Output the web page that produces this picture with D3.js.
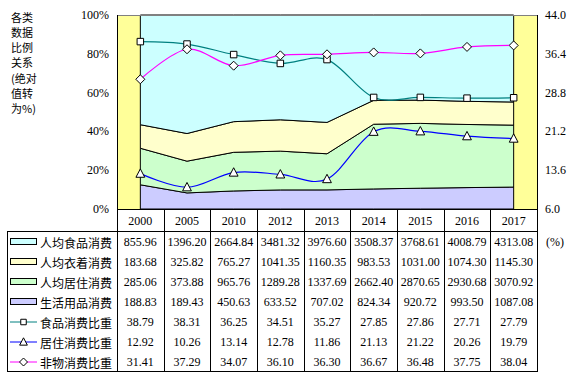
<!DOCTYPE html>
<html>
<head>
<meta charset="utf-8">
<script src="https://cdn.jsdelivr.net/npm/d3@7"></script>
<style>
  body { margin: 0; background: #fff; }
  text { font-family: "Liberation Serif", "Times New Roman", serif; font-size: 12px; fill: #000; }
  .cn { font-family: "Noto Sans CJK SC", sans-serif; font-size: 12px; }
  .ytitle { font-size: 11px; }
</style>
</head>
<body>
<div id="container"></div>
<script>
/* DATA */
const years = ["2000", "2005", "2010", "2012", "2013", "2014", "2015", "2016", "2017"];
const food = [855.96, 1396.20, 2664.84, 3481.32, 3976.60, 3508.37, 3768.61, 4008.79, 4313.08];
const clothing = [183.68, 325.82, 765.27, 1041.35, 1160.35, 983.53, 1031.00, 1074.30, 1145.30];
const housing = [285.06, 373.88, 965.76, 1289.28, 1337.69, 2662.40, 2870.65, 2930.68, 3070.92];
const daily = [188.83, 189.43, 450.63, 633.52, 707.02, 824.34, 920.72, 993.50, 1087.08];
const foodShare = [38.79, 38.31, 36.25, 34.51, 35.27, 27.85, 27.86, 27.71, 27.79];
const housingShare = [12.92, 10.26, 13.14, 12.78, 11.86, 21.13, 21.22, 20.26, 19.79];
const nonMaterialShare = [31.41, 37.29, 34.07, 36.10, 36.30, 36.67, 36.48, 37.75, 38.04];
const leftTicks = [0, 0.2, 0.4, 0.6, 0.8, 1];
const rightTicks = [6.0, 13.6, 21.2, 28.8, 36.4, 44.0];
const yTitle = ["各类", "数据", "比例", "关系", "(绝对", "值转", "为%)"];

const areaNames = ["人均食品消费", "人均衣着消费", "人均居住消费", "生活用品消费"];
const lineNames = ["食品消费比重", "居住消费比重", "非物消费比重"];

/* CONSTANTS */
const width = 576, height = 376;
const plot = {left: 117, right: 537, top: 15, bottom: 209};
const tableTop = 231, rowH = 20, legendLeft = 7;

const areaColors = {food: "#CCFFFF", clothing: "#FFFFCC", housing: "#CCFFCC", daily: "#CCCCFF"};
const lineColors = ["#008080", "#0000FF", "#FF00FF"];
const markers = ["square", "triangle", "diamond"];

const svg = d3.select("#container").append("svg")
  .attr("width", width)
  .attr("height", height);

/* SCALES */
const xScale = d3.scaleBand().domain(years).range([plot.left, plot.right]).padding(0);
const xMid = d => xScale(d) + xScale.bandwidth() / 2;
const yPct = d3.scaleLinear().domain([0, 1]).range([plot.bottom, plot.top]);
const yRight = d3.scaleLinear().domain([6, 44]).range([plot.bottom, plot.top]);

// plot background
svg.append("rect")
  .attr("x", plot.left).attr("y", plot.top)
  .attr("width", plot.right - plot.left).attr("height", plot.bottom - plot.top)
  .attr("fill", "#FFFF99");

// stacked 100% areas
const rows = years.map((y, i) => ({year: y, daily: daily[i], housing: housing[i], clothing: clothing[i], food: food[i]}));
const stack = d3.stack()
  .keys(["daily", "housing", "clothing", "food"])
  .offset(d3.stackOffsetExpand);
const series = stack(rows);

const area = d3.area()
  .x(d => xMid(d.data.year))
  .y0(d => yPct(d[0]))
  .y1(d => yPct(d[1]));

svg.selectAll(".area")
  .data(series)
  .join("path")
  .attr("class", "area")
  .attr("d", area)
  .attr("fill", d => areaColors[d.key])
  .attr("stroke", "#000")
  .attr("stroke-width", 1);

// plot frame
svg.append("line")
  .attr("x1", plot.left).attr("x2", plot.right)
  .attr("y1", plot.top + 0.5).attr("y2", plot.top + 0.5)
  .attr("stroke", "#808080");

// share lines on the right axis
const lineData = [foodShare, housingShare, nonMaterialShare];
const lineGen = d3.line()
  .x((d, i) => xMid(years[i]))
  .y(d => yRight(d))
  .curve(d3.curveCardinal.tension(0));

svg.selectAll(".share")
  .data(lineData)
  .join("path")
  .attr("class", "share")
  .attr("d", lineGen)
  .attr("fill", "none")
  .attr("stroke", (d, i) => lineColors[i])
  .attr("stroke-width", 1.2);

function markerPath(type, s) {
  const p = d3.path();
  if (type === "square") {
    p.rect(-s / 2, -s / 2, s, s);
  } else if (type === "triangle") {
    p.moveTo(0, -s * 0.6); p.lineTo(s * 0.55, s * 0.45); p.lineTo(-s * 0.55, s * 0.45); p.closePath();
  } else {
    p.moveTo(0, -s / 2); p.lineTo(s / 2, 0); p.lineTo(0, s / 2); p.lineTo(-s / 2, 0); p.closePath();
  }
  return p.toString();
}
const markerSize = {square: 6.5, triangle: 8, diamond: 9};

lineData.forEach((vals, k) => {
  svg.selectAll(".mk" + k)
    .data(vals)
    .join("path")
    .attr("class", "mk" + k)
    .attr("transform", (d, i) => `translate(${xMid(years[i])},${yRight(d)})`)
    .attr("d", markerPath(markers[k], markerSize[markers[k]]))
    .attr("fill", "#fff")
    .attr("stroke", "#000")
    .attr("stroke-width", 1);
});

/* AXES */
svg.selectAll(".ltick")
  .data(leftTicks)
  .join("text")
  .attr("class", "ltick")
  .attr("x", 109)
  .attr("y", d => yPct(d))
  .attr("text-anchor", "end")
  .attr("dominant-baseline", "central")
  .text(d => d3.format(".0%")(d));

svg.selectAll(".rtick")
  .data(rightTicks)
  .join("text")
  .attr("class", "rtick")
  .attr("x", 545)
  .attr("y", d => yRight(d))
  .attr("dominant-baseline", "central")
  .text(d => d.toFixed(1));

svg.selectAll(".ytitle")
  .data(yTitle)
  .join("text")
  .attr("class", "ytitle cn")
  .attr("x", 11)
  .attr("y", (d, i) => 16.5 + i * 15.3)
  .attr("dominant-baseline", "central")
  .text(d => d);

/* DATA TABLE */
const tableBottom = tableTop + rowH * 7;
const grid = svg.append("g").attr("stroke", "#000").attr("stroke-width", 1);

// axis lines
grid.append("line").attr("x1", plot.left + 0.5).attr("x2", plot.left + 0.5).attr("y1", plot.top).attr("y2", tableBottom);
grid.append("line").attr("x1", plot.right + 0.5).attr("x2", plot.right + 0.5).attr("y1", plot.top).attr("y2", tableBottom);
grid.append("line").attr("x1", plot.left).attr("x2", plot.right).attr("y1", plot.bottom + 0.5).attr("y2", plot.bottom + 0.5);
// column lines
grid.selectAll(".col")
  .data(years.slice(1))
  .join("line")
  .attr("class", "col")
  .attr("x1", d => Math.round(xScale(d)) + 0.5)
  .attr("x2", d => Math.round(xScale(d)) + 0.5)
  .attr("y1", plot.bottom)
  .attr("y2", tableBottom);
// outer box of data rows
grid.append("rect")
  .attr("x", legendLeft + 0.5).attr("y", tableTop + 0.5)
  .attr("width", plot.right - legendLeft).attr("height", tableBottom - tableTop)
  .attr("fill", "none");

// year header
svg.selectAll(".year")
  .data(years)
  .join("text")
  .attr("class", "year")
  .attr("x", d => xMid(d))
  .attr("y", (plot.bottom + tableTop) / 2 + 1)
  .attr("text-anchor", "middle")
  .attr("dominant-baseline", "central")
  .text(d => d);

const tableRows = [food, clothing, housing, daily, foodShare, housingShare, nonMaterialShare];
const rowNames = areaNames.concat(lineNames);
const rowY = i => tableTop + rowH * i + rowH / 2 + 1;

tableRows.forEach((vals, r) => {
  svg.selectAll(".cell" + r)
    .data(vals)
    .join("text")
    .attr("class", "cell" + r)
    .attr("x", (d, i) => xMid(years[i]))
    .attr("y", rowY(r))
    .attr("text-anchor", "middle")
    .attr("dominant-baseline", "central")
    .text(d => d.toFixed(2));
});

svg.selectAll(".rowname")
  .data(rowNames)
  .join("text")
  .attr("class", "rowname cn")
  .attr("x", 40)
  .attr("y", (d, i) => rowY(i))
  .attr("dominant-baseline", "central")
  .text(d => d);

// legend keys
const areaKeyColors = [areaColors.food, areaColors.clothing, areaColors.housing, areaColors.daily];
svg.selectAll(".akey")
  .data(areaKeyColors)
  .join("rect")
  .attr("class", "akey")
  .attr("x", 10.5)
  .attr("y", (d, i) => rowY(i) - 3.5)
  .attr("width", 26)
  .attr("height", 6)
  .attr("fill", d => d)
  .attr("stroke", "#000");

lineColors.forEach((c, k) => {
  const y = rowY(4 + k);
  svg.append("line")
    .attr("x1", 10).attr("x2", 37)
    .attr("y1", y).attr("y2", y)
    .attr("stroke", c);
  svg.append("path")
    .attr("transform", `translate(23.5,${y})`)
    .attr("d", markerPath(markers[k], markerSize[markers[k]] - 1))
    .attr("fill", "#fff")
    .attr("stroke", "#000");
});

svg.append("text")
  .attr("x", 546)
  .attr("y", rowY(0))
  .attr("dominant-baseline", "central")
  .text("(%)");
</script>
</body>
</html>
